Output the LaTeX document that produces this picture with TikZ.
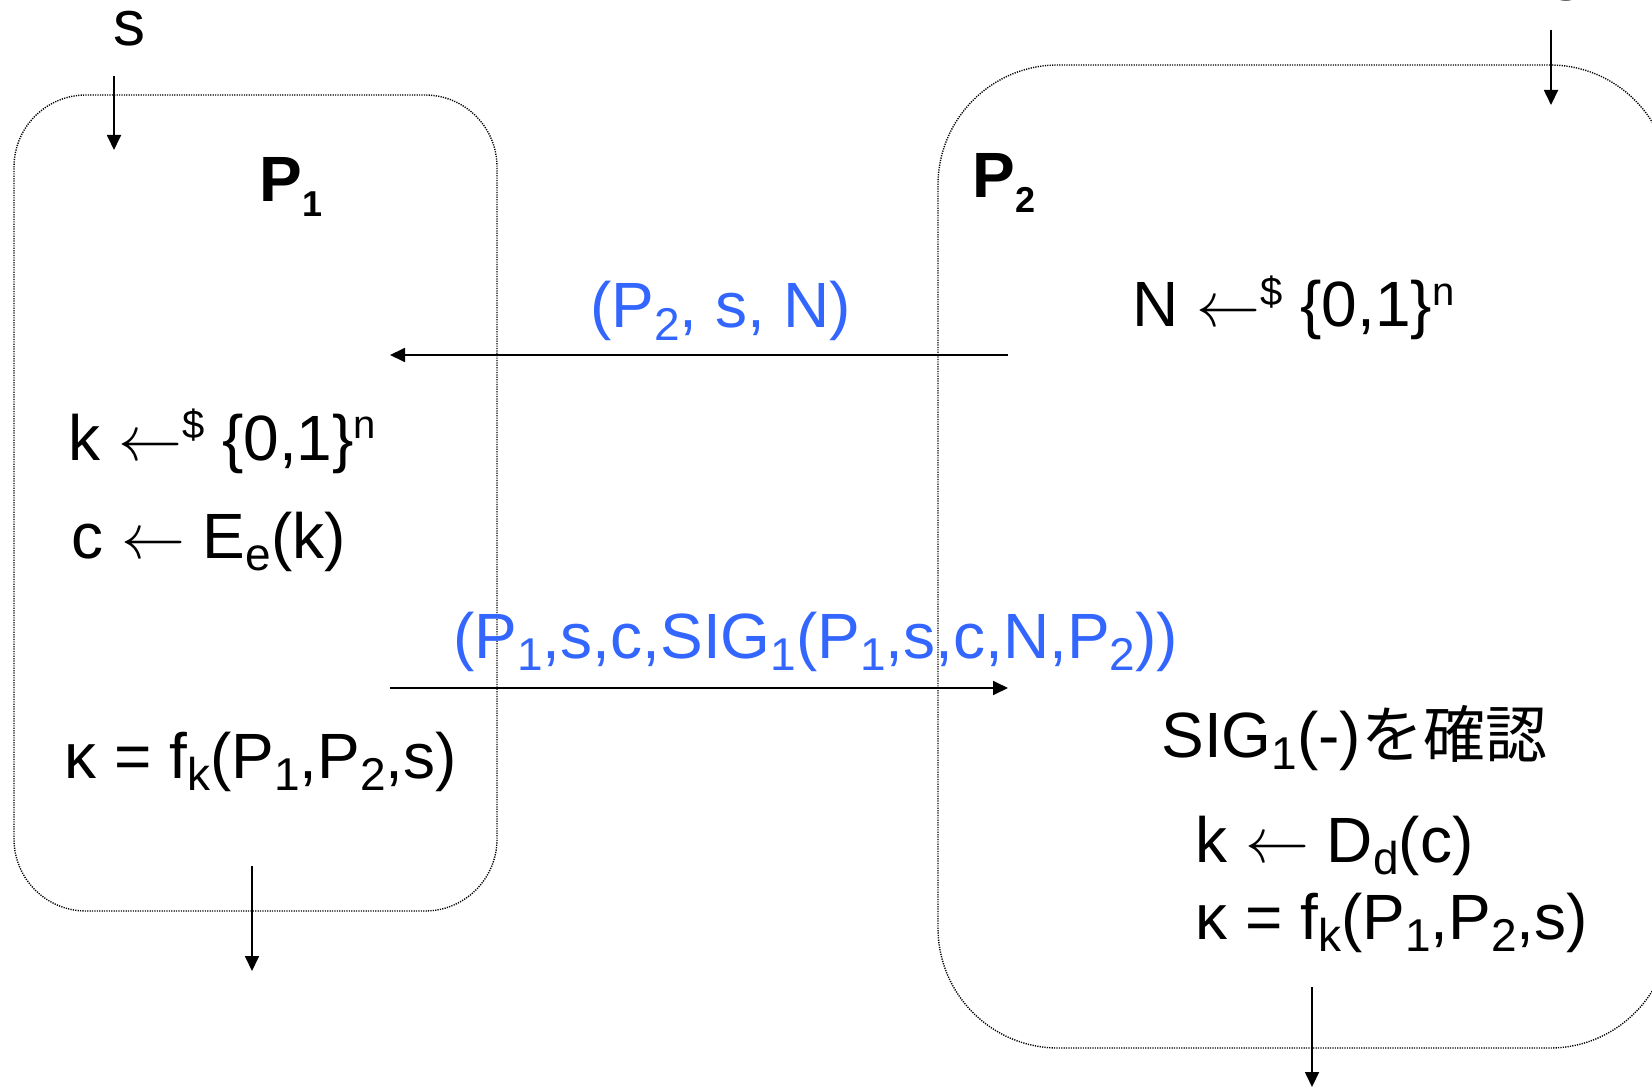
\RequirePackage{fix-cm}
\documentclass[tikz,border=0pt]{standalone}
\usepackage{fontspec}
\usepackage{graphicx}
\setmainfont{Liberation Sans}
\newfontfamily\cjk{Noto Sans CJK JP}
\usetikzlibrary{arrows.meta}
\definecolor{msgblue}{RGB}{51,102,255}
\newcommand\sbs[1]{\raisebox{-0.2em}{\fontsize{23}{23}\selectfont #1}}
\newcommand\sps[1]{\raisebox{0.33em}{\fontsize{20}{20}\selectfont #1}}
\newcommand\tsub[1]{\raisebox{-0.23em}{\fontsize{18}{18}\selectfont\bfseries #1}}
\newcommand\getsarrow{$\leftarrow$}
\tikzset{
  party/.style={draw, line width=0.7pt, dash pattern=on 0.6pt off 0.6pt, inner sep=0pt},
  flow/.style={draw, line width=0.9pt, -{Triangle[length=7.5pt,width=7pt]}},
  txt/.style={anchor=base west, inner sep=0pt, font=\fontsize{32}{38}\selectfont},
  msg/.style={txt, text=msgblue},
  title/.style={txt, font=\fontsize{32}{38}\selectfont\bfseries},
}
\begin{document}
\begin{tikzpicture}[x=0.5pt,y=-0.5pt]
\useasboundingbox (0,0) rectangle (1652,1090);
% party boxes
\node[party, rounded corners=36pt, minimum width=241.5pt, minimum height=408pt] (box1) at (255.5,503) {};
\node[party, rounded corners=60pt, minimum width=366pt, minimum height=491.5pt] (box2) at (1304,556.5) {};
% titles
\node[title] (P1) at (259,202) {P\tsub{1}};
\node[title] (P2) at (972,198) {P\tsub{2}};
% inputs
\node[txt, text height=0.55em, text depth=0pt] (sTL) at (113,46) {s};
\node[txt] (sTR) at (1550,1) {s};
% P2 side
\node[txt] (nonce) at (1132,327) {N \getsarrow\sps{\$} \{0,1\}\sps{n}};
\node[txt] (ver) at (1161,757) {SIG\sbs{1}(-){\cjk\fontsize{31}{36}\selectfont を確認}};
\node[txt] (dec) at (1195,862) {k \getsarrow{} D\sbs{d}(c)};
\node[txt] (key2) at (1195,939) {κ = f\sbs{k}(P\sbs{1},P\sbs{2},s)};
% P1 side
\node[txt] (kgen) at (68,460) {k \getsarrow\sps{\$} \{0,1\}\sps{n}};
\node[txt] (enc) at (71,558) {c \getsarrow{} E\sbs{e}(k)};
\node[txt] (key1) at (64,778) {κ = f\sbs{k}(P\sbs{1},P\sbs{2},s)};
% messages
\node[msg] (m1) at (590,328) {(P\sbs{2}, s, N)};
\node[msg] (m2) at (453,658) {(P\sbs{1},s,c,SIG\sbs{1}(P\sbs{1},s,c,N,P\sbs{2}))};
% connector end points
\coordinate (inL0) at (114,76);
\coordinate (inL1) at (114,150);
\coordinate (inR0) at (1551,30);
\coordinate (inR1) at (1551,105);
\coordinate (outL0) at (252,866);
\coordinate (outL1) at (252,971);
\coordinate (outR0) at (1312,987);
\coordinate (outR1) at (1312,1087);
\coordinate (a1s) at (1008,355);
\coordinate (a1e) at (390,355);
\coordinate (a2s) at (390,688);
\coordinate (a2e) at (1008,688);
\draw[flow] (inL0) -- (inL1);
\draw[flow] (inR0) -- (inR1);
\draw[flow] (outL0) -- (outL1);
\draw[flow] (outR0) -- (outR1);
\draw[flow] (a1s) -- (a1e);
\draw[flow] (a2s) -- (a2e);
\end{tikzpicture}
\end{document}
